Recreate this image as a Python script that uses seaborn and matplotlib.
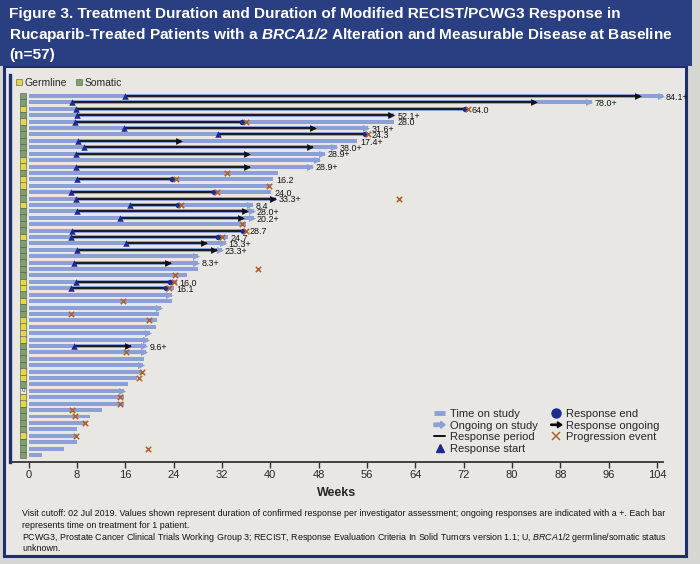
import numpy as np
import pandas as pd
import matplotlib
matplotlib.use('Agg')
import matplotlib.pyplot as plt
import seaborn as sns
from matplotlib.lines import Line2D
from matplotlib.patches import Rectangle, FancyArrow
from matplotlib.legend_handler import HandlerPatch

nan = np.nan

# one entry per patient, top row first
weeks_on_study = [105.0, 93.2, 72.8, 60.5, 60.5, 56.2, 56.2, 54.4, 51.0, 49.0,
                  48.2, 47.0, 41.3, 40.5, 40.2, 40.2, 40.9, 37.1, 37.3, 37.3,
                  35.9, 36.0, 33.0, 32.6, 32.0, 28.1, 28.1, 28.1, 26.2, 24.5,
                  24.0, 23.7, 23.7, 21.9, 21.6, 21.2, 21.1, 20.1, 19.8, 19.5,
                  19.5, 19.1, 19.0, 18.7, 17.9, 16.4, 15.8, 15.8, 15.8, 12.1,
                  10.1, 9.5, 8.0, 8.0, 8.0, 5.8, 2.2]
ongoing_study = [1, 1, 0, 1, 0, 1, 0, 0, 1, 1,
                 1, 1, 0, 0, 0, 0, 1, 1, 1, 1,
                 0, 0, 0, 1, 1, 1, 1, 0, 0, 0,
                 0, 1, 0, 1, 0, 0, 0, 1, 1, 1,
                 1, 0, 1, 0, 0, 0, 1, 0, 0, 0,
                 0, 0, 0, 0, 0, 0, 0]
resp_start = [16.0, 7.2, 7.9, 8.0, 7.7, 15.8, 31.4, 8.2, 9.1, 7.8,
              nan, 7.8, nan, 8.0, nan, 7.0, 7.8, 16.8, 8.0, 15.1,
              nan, 7.1, 7.0, 16.2, 8.0, nan, 7.5, nan, nan, 7.8,
              7.0, nan, nan, nan, nan, nan, nan, nan, nan, 7.5] + [nan] * 17
resp_end = [101.2, 84.0, 72.2, 60.3, 35.4, 47.4, 55.6, 25.3, 47.0, 36.5,
            nan, 36.6, nan, 23.8, nan, 30.7, 40.9, 24.7, 36.2, 35.5,
            nan, 35.5, 31.3, 29.5, 31.1, nan, 23.5, nan, nan, 23.4,
            22.7, nan, nan, nan, nan, nan, nan, nan, nan, 16.9] + [nan] * 17
resp_label = ["84.1+", "78.0+", "64.0", "52.1+", "28.0", "31.6+", "24.3", "17.4+", "38.0+", "28.9+",
              "", "28.9+", "", "16.2", "", "24.0", "33.3+", "8.4", "28.0+", "20.2+",
              "", "28.7", "24.7", "13.3+", "23.3+", "", "8.3+", "", "", "16.0",
              "16.1", "", "", "", "", "", "", "", "", "9.6+"] + [""] * 17
progression = [nan, nan, 72.7, nan, 35.9, nan, 56.1, nan, nan, nan,
               nan, nan, 32.9, 24.4, 39.8, 31.2, 61.3, 25.2, nan, nan,
               35.4, 36.0, 32.0, nan, nan, nan, nan, 38.0, 24.3, 24.0,
               23.2, nan, 15.7, nan, 7.0, 19.9, nan, nan, nan, nan,
               16.1, nan, nan, 18.7, 18.3, nan, nan, 15.1, 15.1, 7.1,
               7.7, 9.3, nan, 7.9, nan, 19.7, nan]
mutation = list("SSGSGSSSSS" "GGSGGSSGSS" "SSGSSSSSSG" "GSGSSGGGGS" "SSSGGSUGGS" "SSSGSSS")

week_ticks = list(range(0, 105, 8))

bar_col = '#8c9fd6'
navy = '#1c2b8f'
frame_col = '#1f2f6e'
prog_col = '#b0602c'
mut_colors = {'G': '#e3d64a', 'S': '#7f9f6e', 'U': '#e8e8e4'}

df = pd.DataFrame({'patient': range(1, 58), 'weeks': weeks_on_study,
                   'ongoing': ongoing_study, 'start': resp_start, 'end': resp_end,
                   'label': resp_label, 'prog': progression, 'mut': mutation})
df['row'] = np.arange(len(df))

sns.set_theme(style='white')
plt.rcParams['font.family'] = ['Liberation Sans', 'DejaVu Sans']
plt.rcParams['mathtext.fontset'] = 'custom'
plt.rcParams['mathtext.rm'] = 'Liberation Sans'
plt.rcParams['mathtext.it'] = 'Liberation Sans:italic'
plt.rcParams['mathtext.bf'] = 'Liberation Sans:bold'
plt.rcParams['mathtext.bfit'] = 'Liberation Sans:bold:italic'

W, H = 700, 564
fig = plt.figure(figsize=(7, 5.64), dpi=100, facecolor='#d6d6d2')

def px(x, y):
    return x / W, 1 - y / H

# poster panel and title band
fig.patches.append(Rectangle(px(4, 556), 682 / W, 490 / H, transform=fig.transFigure,
                             facecolor='#e8e7e3', edgecolor=frame_col, lw=2.2, zorder=-10))
fig.patches.append(Rectangle(px(0, 66), 692 / W, 66 / H, transform=fig.transFigure,
                             facecolor='#2a3f82', edgecolor='none', zorder=-9))
title = ("Figure 3. Treatment Duration and Duration of Modified RECIST/PCWG3 Response in\n"
         "Rucaparib-Treated Patients with a $\\mathbfit{BRCA1/2}$ Alteration and Measurable Disease at Baseline\n"
         "(n=57)")
for i, line in enumerate(title.split('\n')):
    fig.text(9 / W, 1 - (14 + 20.5 * i) / H, line, color='white', fontsize=11.1,
             fontweight='bold', va='center', ha='left')

ax = fig.add_axes([10 / W, 1 - 462 / H, 653 / W, 387 / H])
ax.patch.set_alpha(0)

sns.barplot(data=df, x='weeks', y='patient', orient='h', order=list(df['patient']),
            color=bar_col, saturation=1, width=0.62, linewidth=0, ax=ax, zorder=2)

on = df[df['ongoing'] == 1]
ax.scatter(on['weeks'] - 0.4, on['row'], marker='>', s=26, color=bar_col, lw=0, zorder=3,
           clip_on=False)

resp = df.dropna(subset=['start'])
ax.hlines(resp['row'], resp['start'], resp['end'], color='#111111', lw=1.3, zorder=4)
still = resp[resp['label'].str.endswith('+')]
done = resp[~resp['label'].str.endswith('+')]
ax.scatter(still['end'] - 0.4, still['row'], marker='>', s=24, color='#111111', lw=0,
           zorder=5, clip_on=False)
ax.scatter(done['end'], done['row'], marker='o', s=16, color=navy, lw=0, zorder=5)
ax.scatter(resp['start'], resp['row'], marker='^', s=22, color=navy, lw=0, zorder=5)

pr = df.dropna(subset=['prog'])
ax.scatter(pr['prog'], pr['row'], marker='x', s=15, color=prog_col, lw=1.1, zorder=6)

for _, r in resp.iterrows():
    xl = max(r['weeks'], r['end']) + 0.5
    ax.text(xl, r['row'] + 0.2, r['label'], fontsize=6.4, va='center', ha='left',
            color='#111111', clip_on=False)

# mutation status column
ax.scatter(np.full(len(df), -0.93), df['row'], marker='s', s=23,
           c=[mut_colors[m] for m in df['mut']], edgecolors='#4a5a4a', linewidths=0.4,
           zorder=5, clip_on=False)
for _, r in df[df['mut'] == 'U'].iterrows():
    ax.text(-0.93, r['row'], 'U', fontsize=3.5, ha='center', va='center', zorder=6)

ax.set_xlim(-3.08, 105.0)
ax.set_ylim(57.1, -3.28)
ax.set_xticks(week_ticks)
ax.set_yticks([])
ax.set_ylabel('')
ax.set_xlabel('Weeks', fontsize=9, fontweight='bold', labelpad=5)
ax.tick_params(axis='x', direction='out', length=4, width=1, color='#333333',
               labelsize=8, pad=2, bottom=True)
for s in ['top', 'right']:
    ax.spines[s].set_visible(False)
ax.spines['left'].set_color(frame_col)
ax.spines['left'].set_linewidth(2.4)
ax.spines['bottom'].set_color('#333333')
ax.spines['bottom'].set_linewidth(1.3)


def arrow_handler(shaft, head_w, head_l, color):
    def make(legend, orig_handle, xdescent, ydescent, width, height, fontsize):
        return FancyArrow(-xdescent, height / 2 - ydescent, width, 0, width=shaft,
                          head_width=head_w, head_length=head_l,
                          length_includes_head=True, color=color, lw=0)
    return HandlerPatch(patch_func=make)


ongoing_handle = Rectangle((0, 0), 1, 1, color=bar_col)
resp_ongoing_handle = Rectangle((0, 0), 1, 1, color='black')
handles = [Line2D([], [], color=bar_col, lw=3.5, solid_capstyle='butt'),
           ongoing_handle,
           Line2D([], [], color='#111111', lw=1.4),
           Line2D([], [], ls='', marker='^', color=navy, markersize=6),
           Line2D([], [], ls='', marker='o', color=navy, markersize=6.5),
           resp_ongoing_handle,
           Line2D([], [], ls='', marker='x', color=prog_col, markersize=5.5, mew=1.1)]
labels = ['Time on study', 'Ongoing on study', 'Response period', 'Response start',
          'Response end', 'Response ongoing', 'Progression event']
fig.legend(handles, labels, ncol=2, loc='upper left', bbox_to_anchor=px(434, 409),
           frameon=False, fontsize=8, handlelength=1.0, handletextpad=0.4,
           labelspacing=0.15, columnspacing=1.2, borderpad=0, borderaxespad=0,
           handler_map={ongoing_handle: arrow_handler(2.4, 5.0, 3.2, bar_col),
                        resp_ongoing_handle: arrow_handler(0.9, 4.2, 3.2, 'black')})

mut_handles = [Line2D([], [], ls='', marker='s', markersize=5, color=mut_colors['G'],
                      mec='#4a5a4a', mew=0.4),
               Line2D([], [], ls='', marker='s', markersize=5, color=mut_colors['S'],
                      mec='#4a5a4a', mew=0.4)]
fig.legend(mut_handles, ['Germline', 'Somatic'], ncol=2, loc='upper left',
           bbox_to_anchor=px(16, 78), frameon=False, fontsize=7.5, handlelength=0.6,
           handletextpad=0.2, columnspacing=0.9, borderpad=0, borderaxespad=0)

foot = ["Visit cutoff: 02 Jul 2019. Values shown represent duration of confirmed response per investigator assessment; ongoing responses are indicated with a +. Each bar",
        "represents time on treatment for 1 patient.",
        "PCWG3, Prostate Cancer Clinical Trials Working Group 3; RECIST, Response Evaluation Criteria In Solid Tumors version 1.1; U, $\\mathit{BRCA1/2}$ germline/somatic status",
        "unknown."]
for i, line in enumerate(foot):
    fig.text(22 / W, 1 - (514 + 11.6 * i) / H, line, fontsize=6.4, va='center', ha='left',
             color='#111111')

fig.savefig('out.png', dpi=100, facecolor=fig.get_facecolor())
